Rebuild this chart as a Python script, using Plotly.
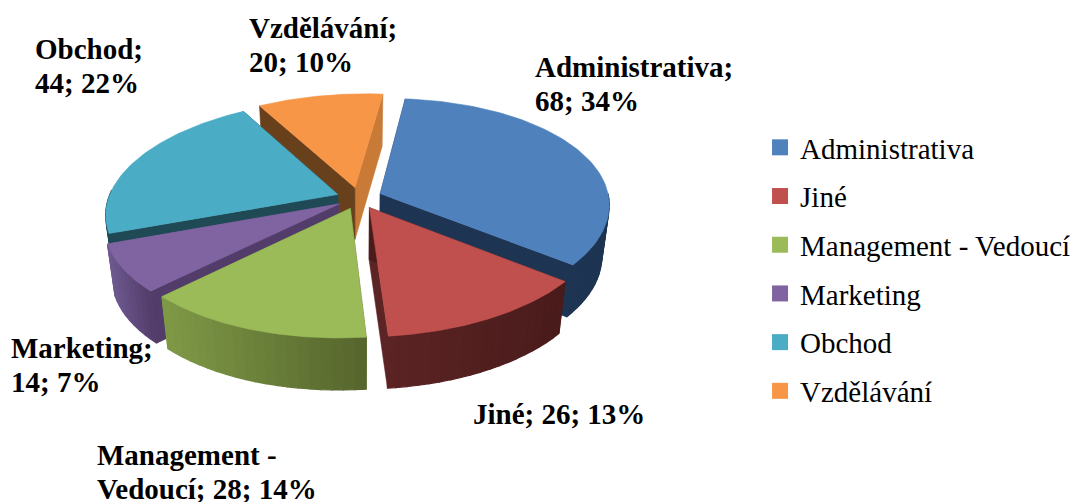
import numpy as np
import plotly.graph_objects as go

categories = ["Administrativa", "Jiné", "Management - Vedoucí", "Marketing", "Obchod", "Vzdělávání"]
values = [68, 26, 28, 14, 44, 20]
percents = [34, 13, 14, 7, 22, 10]

top_colors = ["#4F81BD", "#C0504D", "#9BBB59", "#8064A2", "#4BACC6", "#F79646"]
wall_left = ["#1D3452", "#5C2424", "#7F9A47", "#6F5A90", "#1F4A55", "#C87A36"]
wall_right = ["#1D3452", "#4A1B1B", "#56652D", "#523C6A", "#1F4A55", "#68401C"]

FONT = "Liberation Serif"
CX, CY = 359, 198
A, B = 229, 109
K = 0.135
SHEAR = 10
EXPLODE = 0.1
DEPTH = 52
START = 5


def project(angle, r, off, low=False):
    # angle is clockwise from north, the pie is flattened with a bit of perspective
    dx = r * np.sin(np.radians(angle)) + EXPLODE * np.sin(np.radians(off))
    dy = r * np.cos(np.radians(angle)) + EXPLODE * np.cos(np.radians(off))
    f = 1 + K * dy
    x = A * dx / f + SHEAR * dy
    y = -B * dy / f
    if low:
        return CX + x * 0.97, CY + y + DEPTH
    return CX + x, CY + y


def mix(c1, c2, t):
    a = [int(c1[i:i + 2], 16) for i in (1, 3, 5)]
    b = [int(c2[i:i + 2], 16) for i in (1, 3, 5)]
    return "rgb(%d,%d,%d)" % tuple(a[i] + (b[i] - a[i]) * t for i in range(3))


def add_poly(fig, pts, color, width=0.6):
    xs = [p[0] for p in pts] + [pts[0][0]]
    ys = [p[1] for p in pts] + [pts[0][1]]
    fig.add_trace(go.Scatter(
        x=xs, y=ys, mode="lines", fill="toself", fillcolor=color,
        line=dict(color=color, width=width), hoverinfo="skip", showlegend=False,
    ))


fig = go.Figure()

# slice angles from the values
total = sum(values)
edges = START + np.concatenate([[0], np.cumsum(values)]) * 360 / total

# back slices first
for i in [5, 4, 0, 3, 1, 2]:
    a0, a1 = edges[i], edges[i + 1]
    mid = (a0 + a1) / 2
    # radial walls
    for ang, col in ((a1, wall_left[i]), (a0, wall_right[i])):
        add_poly(fig, [project(0, 0, mid), project(ang, 1, mid),
                       project(ang, 1, mid, True), project(0, 0, mid, True)], col)
    # outer wall, cut in strips for the gradient
    steps = np.arange(a0, a1 + 2.5, 2.5)
    steps[-1] = a1
    xs_all = [project(s, 1, mid)[0] for s in steps]
    for s0, s1 in zip(steps[:-1], steps[1:]):
        # back of the rim faces away from the viewer
        if np.cos(np.radians((s0 + s1) / 2)) > 0.02:
            continue
        xm = (project(s0, 1, mid)[0] + project(s1, 1, mid)[0]) / 2
        t = (xm - min(xs_all)) / (max(xs_all) - min(xs_all))
        add_poly(fig, [project(s0, 1, mid), project(s1, 1, mid),
                       project(s1, 1, mid, True), project(s0, 1, mid, True)],
                 mix(wall_left[i], wall_right[i], t), width=1.2)
    # top face
    arc = np.linspace(a0, a1, 80)
    add_poly(fig, [project(0, 0, mid)] + [project(s, 1, mid) for s in arc], top_colors[i])

# legend
for name, col in zip(categories, top_colors):
    fig.add_trace(go.Scatter(
        x=[None], y=[None], mode="markers", name=name, legendgroup=name,
        marker=dict(symbol="square", size=16, color=col),
    ))

label_lines = [
    [f"{categories[0]};", f"{values[0]}; {percents[0]}%"],
    [f"{categories[1]}; {values[1]}; {percents[1]}%"],
    ["Management -", f"Vedoucí; {values[2]}; {percents[2]}%"],
    [f"{categories[3]};", f"{values[3]}; {percents[3]}%"],
    [f"{categories[4]};", f"{values[4]}; {percents[4]}%"],
    [f"{categories[5]};", f"{values[5]}; {percents[5]}%"],
]
label_pos = [(533, 67), (471, 414), (95, 455), (9, 348), (33, 49), (247, 28)]
# one annotation per line, the reference lines are tighter than the font's default
for lines, (x, y) in zip(label_lines, label_pos):
    for n, line in enumerate(lines):
        fig.add_annotation(
            x=x, y=y + n * 34, xref="x", yref="y", xanchor="left", yanchor="middle",
            text=f"<b>{line}</b>", showarrow=False,
            font=dict(family=FONT, size=29, color="black"),
        )

fig.update_layout(
    width=1077, height=502,
    margin=dict(l=0, r=0, t=0, b=0),
    paper_bgcolor="white", plot_bgcolor="white",
    xaxis=dict(range=[0, 1077], visible=False, fixedrange=True),
    yaxis=dict(range=[502, 0], visible=False, fixedrange=True),
    legend=dict(
        x=0.7057, y=0.757, xanchor="left", yanchor="top",
        font=dict(family=FONT, size=29, color="black"),
        tracegroupgap=8, itemwidth=30, bgcolor="rgba(0,0,0,0)",
    ),
)

fig.write_html("out.html", config=dict(displayModeBar=False),
               post_script="document.body.style.margin='0';")
